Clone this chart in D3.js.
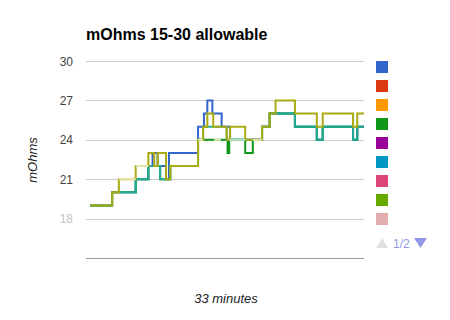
<!DOCTYPE html>
<html><head><meta charset="utf-8">
<script src="https://cdn.jsdelivr.net/npm/d3@7"></script>
<style>body{margin:0;background:#fff;}svg{display:block;font-family:Arial,"Liberation Sans",sans-serif;}</style>
</head><body>
<svg id="c" width="450" height="320"></svg>
<script>
const title = "mOhms 15-30 allowable";
const yTitle = "mOhms";
const xTitle = "33 minutes";
const yTicks = [18, 21, 24, 27, 30];
const yFaded = [18];
const legendColors = ["#3366cc","#dc3912","#ff9900","#109618","#990099","#0099c6","#dd4477","#66aa00","#e3adad"];
const pageLabel = "1/2";

// step series: [minute, mOhms] breakpoints
const blue = [[0.5,19],[3.1,20],[5.9,21],[7.4,22],[7.9,23],[8.5,22],[9.5,21],[9.85,23],[13.3,25],[14.0,26],[14.4,27],[15.0,26],[16.1,25],[17.1,24],[20.9,25],[21.8,26],[24.8,25],[27.4,24],[28.1,25],[31.7,24],[32.2,25],[33,25]];
const green = [[0.5,19],[3.1,20],[5.9,21],[7.4,22],[8.8,21],[10.0,22],[13.3,24],[16.7,24],[16.8,23],[17.0,24],[18.9,23],[19.8,24],[20.9,25],[21.8,26],[24.8,25],[27.4,24],[28.1,25],[31.7,24],[32.2,25],[33,25]];
const teal = [[0.5,19],[3.1,20],[5.9,21],[7.4,22],[8.8,21],[10.0,22],[13.3,24],[13.9,25],[16.7,24],[20.9,25],[21.8,26],[24.8,25],[27.4,24],[28.1,25],[31.7,24],[32.2,25],[33,25]];
const olive = [[0.5,19],[3.1,20],[3.9,21],[5.9,22],[7.4,23],[8.1,22],[8.5,23],[9.5,21],[10.0,22],[13.3,24],[13.9,25],[14.4,26],[15.1,25],[16.7,24],[17.1,25],[18.9,24],[20.9,25],[21.8,26],[22.5,27],[24.8,26],[27.4,25],[28.1,26],[31.7,25],[32.2,26],[33,26]];
// pale highlight segments: [start, end, mOhms]
const paleYellow = [[3.9,5.9,21],[5.9,7.4,22],[13.3,13.9,24],[15.2,16.0,24],[19.8,20.9,24]];
const paleGreen = [[17.0,18.9,24]];

const svg = d3.select("#c");
const x = d3.scaleLinear().domain([0, 33]).range([86, 364]);
const y = d3.scaleLinear().domain([15, 30]).range([258, 61]);

// gridlines
svg.append("g").selectAll("line").data(yTicks).join("line")
  .attr("x1", x(0)).attr("x2", x(33))
  .attr("y1", d => Math.round(y(d)) + 0.5).attr("y2", d => Math.round(y(d)) + 0.5)
  .attr("stroke", "#cccccc").attr("stroke-width", 1);
svg.append("line").attr("x1", x(0)).attr("x2", x(33))
  .attr("y1", Math.round(y(15)) + 0.5).attr("y2", Math.round(y(15)) + 0.5)
  .attr("stroke", "#999999");

// y labels
svg.append("g").selectAll("text").data(yTicks).join("text")
  .attr("x", 73).attr("y", d => y(d) + 4.5)
  .attr("text-anchor", "end").attr("font-size", 12)
  .attr("fill", d => yFaded.includes(d) ? "#c4c4c4" : "#444444")
  .text(d => d);

// title & axis titles
svg.append("text").attr("x", 86).attr("y", 40).attr("font-size", 16).attr("font-weight", "bold").attr("fill", "#000").text(title);
svg.append("text").attr("transform", "translate(37,160) rotate(-90)").attr("text-anchor", "middle")
  .attr("font-size", 13).attr("font-style", "italic").attr("fill", "#222").text(yTitle);
svg.append("text").attr("x", 226).attr("y", 303).attr("text-anchor", "middle")
  .attr("font-size", 13).attr("font-style", "italic").attr("fill", "#222").text(xTitle);

// lines
const line = d3.line().x(d => x(d[0])).y(d => y(d[1])).curve(d3.curveStepAfter);
const g = svg.append("g").attr("fill", "none").attr("stroke-width", 2);
[[blue, "#3366cc"], [green, "#109618"], [teal, "#22aa99"], [olive, "#aaaa11"]].forEach(([data, col]) => {
  g.append("path").datum(data).attr("d", line).attr("stroke", col);
});
g.selectAll("line.py").data(paleYellow).join("line").attr("class", "py")
  .attr("x1", d => x(d[0])).attr("x2", d => x(d[1])).attr("y1", d => y(d[2])).attr("y2", d => y(d[2]))
  .attr("stroke", "#e6e6b4");
g.selectAll("line.pg").data(paleGreen).join("line").attr("class", "pg")
  .attr("x1", d => x(d[0])).attr("x2", d => x(d[1])).attr("y1", d => y(d[2])).attr("y2", d => y(d[2]))
  .attr("stroke", "#bde0bd");

// legend
svg.append("g").selectAll("rect").data(legendColors).join("rect")
  .attr("x", 376).attr("y", (d, i) => 61 + i * 19).attr("width", 12).attr("height", 12)
  .attr("fill", d => d);

// pager
svg.append("path").attr("d", "M376,248L388,248L382,238Z").attr("fill", "#e0e0e0");
svg.append("text").attr("x", 393).attr("y", 248).attr("font-size", 12).attr("fill", "#8f97e6").text(pageLabel);
svg.append("path").attr("d", "M414,238L427,238L420.5,248Z").attr("fill", "#8f97e6");
</script>
</body></html>
